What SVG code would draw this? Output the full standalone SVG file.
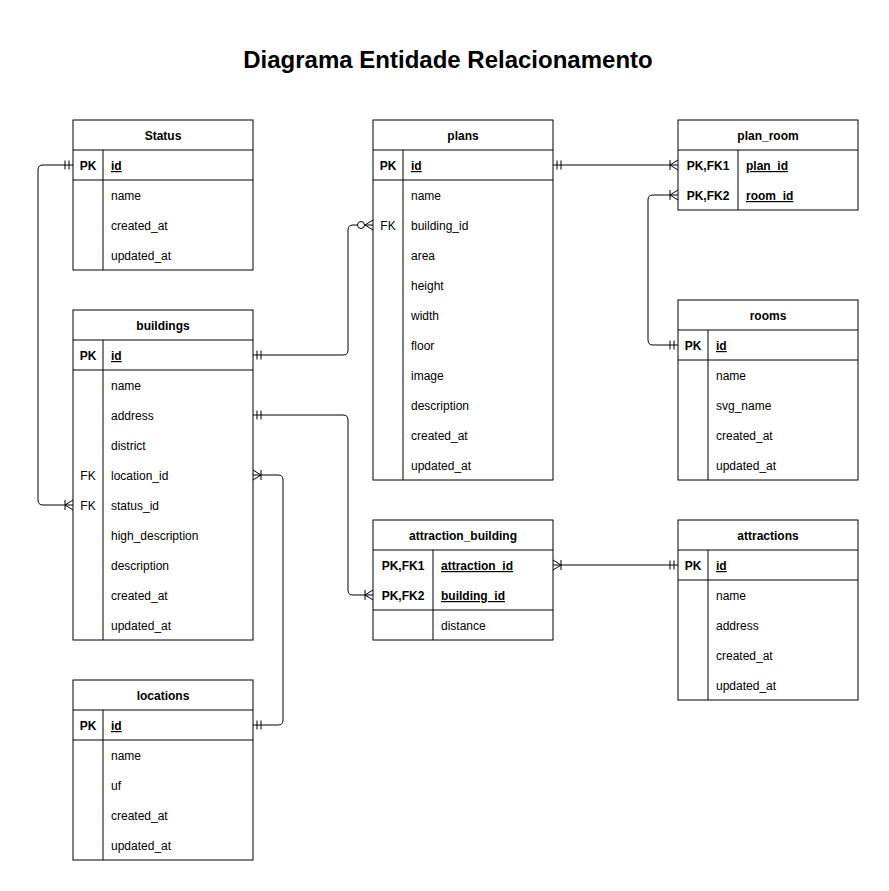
<svg xmlns="http://www.w3.org/2000/svg" width="889" height="891" viewBox="0 0 889 891">
<style>
.box{fill:#fff;stroke:#000;stroke-width:1}
.ln{stroke:#000;stroke-width:1;fill:none}
text{font-family:"Liberation Sans",Arial,Helvetica,sans-serif;font-size:12px;fill:#000}
.h{font-weight:bold;text-anchor:middle}
.k{text-anchor:middle}
.kb{text-anchor:middle;font-weight:bold}
.b{font-weight:bold}
.u{text-decoration:underline}
.title{font-size:24px;font-weight:bold;text-anchor:middle}
.conn{stroke:#000;stroke-width:1;fill:none}
</style>
<defs>
<marker id="one" markerUnits="userSpaceOnUse" orient="auto-start-reverse" refX="0" refY="0" markerWidth="20" markerHeight="16" viewBox="-18 -8 20 16" overflow="visible">
<path d="M-4,-4.5 L-4,4.5 M-8,-4.5 L-8,4.5" stroke="#000" stroke-width="1" fill="none"/>
</marker>
<marker id="many" markerUnits="userSpaceOnUse" orient="auto-start-reverse" refX="0" refY="0" markerWidth="20" markerHeight="16" viewBox="-18 -8 20 16" overflow="visible">
<path d="M0,-5 L-8,0 L0,5 M-8,-5 L-8,5" stroke="#000" stroke-width="1" fill="none"/>
</marker>
<marker id="zmany" markerUnits="userSpaceOnUse" orient="auto-start-reverse" refX="0" refY="0" markerWidth="24" markerHeight="16" viewBox="-22 -8 24 16" overflow="visible">
<path d="M0,-5 L-8,0 L0,5" stroke="#000" stroke-width="1" fill="none"/>
<circle cx="-12" cy="0" r="3.5" stroke="#000" stroke-width="1" fill="#fff"/>
</marker>
</defs>
<rect x="0" y="0" width="889" height="891" fill="#fff"/>
<text class="title" x="448" y="68">Diagrama Entidade Relacionamento</text>

<g id="connectors">
<path class="conn" d="M73,165 L43,165 Q38,165 38,170 L38,500 Q38,505 43,505 L73,505" marker-start="url(#one)" marker-end="url(#many)"/>
<path class="conn" d="M253,355 L343,355 Q348,355 348,350 L348,230 Q348,225 353,225 L373,225" marker-start="url(#one)" marker-end="url(#zmany)"/>
<path class="conn" d="M553,165 L678,165" marker-start="url(#one)" marker-end="url(#many)"/>
<path class="conn" d="M678,195 L653,195 Q648,195 648,200 L648,340 Q648,345 653,345 L678,345" marker-start="url(#many)" marker-end="url(#one)"/>
<path class="conn" d="M253,415 L343,415 Q348,415 348,420 L348,590 Q348,595 353,595 L373,595" marker-start="url(#one)" marker-end="url(#many)"/>
<path class="conn" d="M253,475 L278,475 Q283,475 283,480 L283,720 Q283,725 278,725 L253,725" marker-start="url(#many)" marker-end="url(#one)"/>
<path class="conn" d="M553,565 L678,565" marker-start="url(#many)" marker-end="url(#one)"/>
</g>

<g id="status">
<rect class="box" x="73" y="120" width="180" height="150"/>
<path class="ln" d="M73,150 H253 M73,180 H253 M103,150 V270"/>
<text class="h" x="163" y="140">Status</text>
<text class="kb" x="88" y="170">PK</text>
<text class="b u" x="111" y="170">id</text>
<text x="111" y="200">name</text>
<text x="111" y="230">created_at</text>
<text x="111" y="260">updated_at</text>
</g>

<g id="buildings">
<rect class="box" x="73" y="310" width="180" height="330"/>
<path class="ln" d="M73,340 H253 M73,370 H253 M103,340 V640"/>
<text class="h" x="163" y="330">buildings</text>
<text class="kb" x="88" y="360">PK</text>
<text class="b u" x="111" y="360">id</text>
<text x="111" y="390">name</text>
<text x="111" y="420">address</text>
<text x="111" y="450">district</text>
<text class="k" x="88" y="480">FK</text>
<text x="111" y="480">location_id</text>
<text class="k" x="88" y="510">FK</text>
<text x="111" y="510">status_id</text>
<text x="111" y="540">high_description</text>
<text x="111" y="570">description</text>
<text x="111" y="600">created_at</text>
<text x="111" y="630">updated_at</text>
</g>

<g id="locations">
<rect class="box" x="73" y="680" width="180" height="180"/>
<path class="ln" d="M73,710 H253 M73,740 H253 M103,710 V860"/>
<text class="h" x="163" y="700">locations</text>
<text class="kb" x="88" y="730">PK</text>
<text class="b u" x="111" y="730">id</text>
<text x="111" y="760">name</text>
<text x="111" y="790">uf</text>
<text x="111" y="820">created_at</text>
<text x="111" y="850">updated_at</text>
</g>

<g id="plans">
<rect class="box" x="373" y="120" width="180" height="360"/>
<path class="ln" d="M373,150 H553 M373,180 H553 M403,150 V480"/>
<text class="h" x="463" y="140">plans</text>
<text class="kb" x="388" y="170">PK</text>
<text class="b u" x="411" y="170">id</text>
<text x="411" y="200">name</text>
<text class="k" x="388" y="230">FK</text>
<text x="411" y="230">building_id</text>
<text x="411" y="260">area</text>
<text x="411" y="290">height</text>
<text x="411" y="320">width</text>
<text x="411" y="350">floor</text>
<text x="411" y="380">image</text>
<text x="411" y="410">description</text>
<text x="411" y="440">created_at</text>
<text x="411" y="470">updated_at</text>
</g>

<g id="plan_room">
<rect class="box" x="678" y="120" width="180" height="90"/>
<path class="ln" d="M678,150 H858 M738,150 V210"/>
<text class="h" x="768" y="140">plan_room</text>
<text class="kb" x="708" y="170">PK,FK1</text>
<text class="b u" x="746" y="170">plan_id</text>
<text class="kb" x="708" y="200">PK,FK2</text>
<text class="b u" x="746" y="200">room_id</text>
</g>

<g id="rooms">
<rect class="box" x="678" y="300" width="180" height="180"/>
<path class="ln" d="M678,330 H858 M678,360 H858 M708,330 V480"/>
<text class="h" x="768" y="320">rooms</text>
<text class="kb" x="693" y="350">PK</text>
<text class="b u" x="716" y="350">id</text>
<text x="716" y="380">name</text>
<text x="716" y="410">svg_name</text>
<text x="716" y="440">created_at</text>
<text x="716" y="470">updated_at</text>
</g>

<g id="attraction_building">
<rect class="box" x="373" y="520" width="180" height="120"/>
<path class="ln" d="M373,550 H553 M373,610 H553 M433,550 V640"/>
<text class="h" x="463" y="540">attraction_building</text>
<text class="kb" x="403" y="570">PK,FK1</text>
<text class="b u" x="441" y="570">attraction_id</text>
<text class="kb" x="403" y="600">PK,FK2</text>
<text class="b u" x="441" y="600">building_id</text>
<text x="441" y="630">distance</text>
</g>

<g id="attractions">
<rect class="box" x="678" y="520" width="180" height="180"/>
<path class="ln" d="M678,550 H858 M678,580 H858 M708,550 V700"/>
<text class="h" x="768" y="540">attractions</text>
<text class="kb" x="693" y="570">PK</text>
<text class="b u" x="716" y="570">id</text>
<text x="716" y="600">name</text>
<text x="716" y="630">address</text>
<text x="716" y="660">created_at</text>
<text x="716" y="690">updated_at</text>
</g>
</svg>
